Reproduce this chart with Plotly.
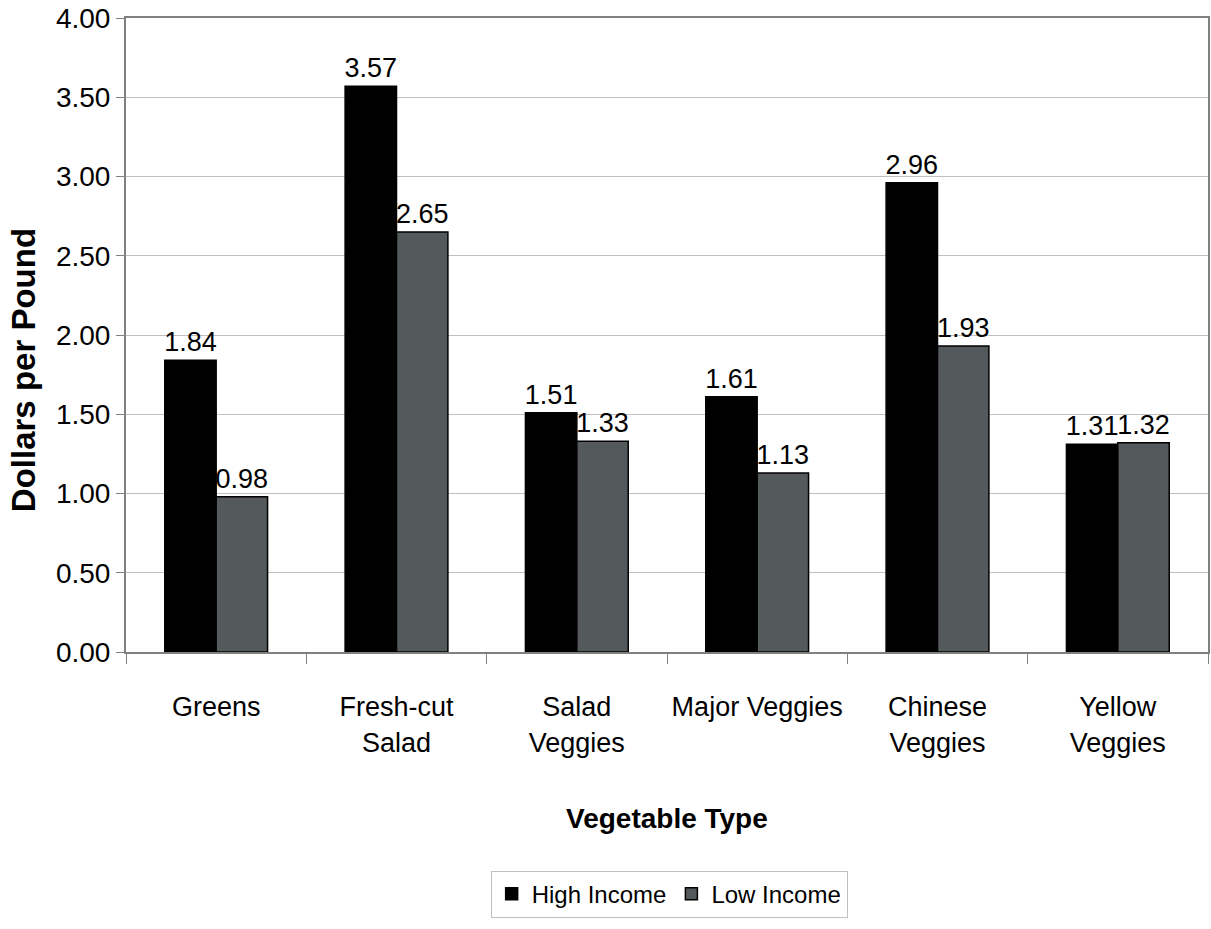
import plotly.graph_objects as go

categories = ["Greens", "Fresh-cut<br>Salad", "Salad<br>Veggies", "Major Veggies", "Chinese<br>Veggies", "Yellow<br>Veggies"]
high_income = [1.84, 3.57, 1.51, 1.61, 2.96, 1.31]
low_income = [0.98, 2.65, 1.33, 1.13, 1.93, 1.32]
y_ticks = [0, 0.5, 1.0, 1.5, 2.0, 2.5, 3.0, 3.5, 4.0]
y_tick_labels = [f"{v:.2f}" for v in y_ticks]

FONT = "Liberation Sans, Arial, sans-serif"

fig = go.Figure()
fig.add_trace(go.Bar(
    name="High Income", x=categories, y=high_income,
    marker=dict(color="#000000", line=dict(color="#000000", width=1.5)),
    text=[f"{v:.2f}" for v in high_income], textposition="outside",
    textfont=dict(family=FONT, size=27, color="#000000"),
    cliponaxis=False, constraintext="none",
))
fig.add_trace(go.Bar(
    name="Low Income", x=categories, y=low_income,
    marker=dict(color="#54595b", line=dict(color="#000000", width=1.5)),
    text=[f"{v:.2f}" for v in low_income], textposition="outside",
    textfont=dict(family=FONT, size=27, color="#000000"),
    cliponaxis=False, constraintext="none",
))

fig.update_layout(
    width=1211, height=929,
    margin=dict(l=126, r=1, t=18, b=277),
    paper_bgcolor="white", plot_bgcolor="white",
    barmode="group", bargap=0.43, bargroupgap=0,
    showlegend=True,
    legend=dict(
        orientation="h", x=0.502, xanchor="center", y=-0.345, yanchor="top",
        bordercolor="#c0c0c0", borderwidth=1,
        font=dict(family=FONT, size=24, color="#000000"),
    ),
    font=dict(family=FONT, color="#000000"),
    annotations=[
        dict(
            text="<b>Vegetable Type</b>", xref="paper", yref="paper",
            x=0.5, y=-0.262, xanchor="center", yanchor="middle", showarrow=False,
            font=dict(family=FONT, size=28, color="#000000"),
        ),
        dict(
            text="<b>Dollars per Pound</b>", xref="paper", yref="paper",
            x=-0.094, y=0.445, xanchor="center", yanchor="middle", showarrow=False,
            textangle=-90, font=dict(family=FONT, size=33, color="#000000"),
        ),
    ],
)
fig.update_yaxes(
    range=[0, 4.0], tickvals=y_ticks, ticktext=y_tick_labels,
    tickfont=dict(family=FONT, size=28, color="#000000"),
    showgrid=True, gridcolor="#c0c0c0", gridwidth=1,
    showline=True, linecolor="#808080", linewidth=2, mirror=True,
    ticks="outside", ticklen=8, tickcolor="#808080", tickwidth=1,
    zeroline=False,
)
fig.update_xaxes(
    tickfont=dict(family=FONT, size=27, color="#000000"), tickangle=0,
    showline=True, linecolor="#808080", linewidth=2, mirror=True,
    ticks="outside", ticklen=10, tickcolor="#808080", tickwidth=1,
    tickson="boundaries", ticklabelstandoff=30,
)

fig.write_html("out.html")
